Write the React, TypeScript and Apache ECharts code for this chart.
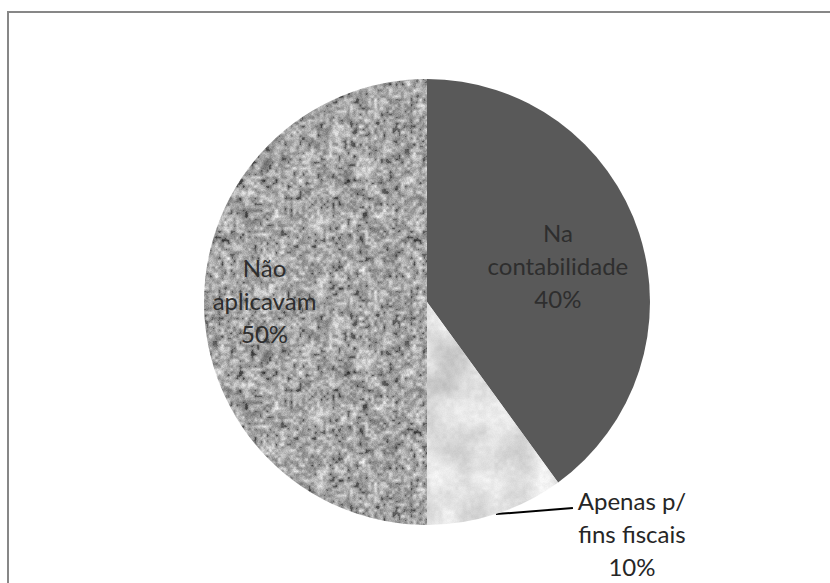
import React, { useEffect, useRef } from "react";
import * as echarts from "echarts";

const categories = ["Na\ncontabilidade", "Apenas p/\nfins fiscais", "Não\naplicavam"];
const values = [40, 10, 50];

function makeRng(seed: number) {
  let s = seed >>> 0;
  return () => {
    s = (Math.imul(s, 1664525) + 1013904223) >>> 0;
    return s / 4294967296;
  };
}

function latticeNoise(size: number, cell: number, rng: () => number) {
  const n = Math.round(size / cell);
  const grid: number[] = [];
  for (let i = 0; i < n * n; i++) grid.push(rng());
  const g = (i: number, j: number) => grid[(((j % n) + n) % n) * n + (((i % n) + n) % n)];
  return (x: number, y: number) => {
    const gx = x / cell, gy = y / cell;
    const x0 = Math.floor(gx), y0 = Math.floor(gy);
    const fx = gx - x0, fy = gy - y0;
    const sx = fx * fx * (3 - 2 * fx), sy = fy * fy * (3 - 2 * fy);
    const a = g(x0, y0), b = g(x0 + 1, y0), c = g(x0, y0 + 1), d = g(x0 + 1, y0 + 1);
    return a + (b - a) * sx + (c - a) * sy + (a - b - c + d) * sx * sy;
  };
}

function makeTexture(size: number, fn: (x: number, y: number) => number) {
  const cv = document.createElement("canvas");
  cv.width = size;
  cv.height = size;
  const ctx = cv.getContext("2d")!;
  const img = ctx.createImageData(size, size);
  for (let y = 0; y < size; y++) {
    for (let x = 0; x < size; x++) {
      const v = Math.max(0, Math.min(255, Math.round(fn(x, y))));
      const k = (y * size + x) * 4;
      img.data[k] = v;
      img.data[k + 1] = v;
      img.data[k + 2] = v;
      img.data[k + 3] = 255;
    }
  }
  ctx.putImageData(img, 0, 0);
  return cv;
}

function graniteTexture() {
  const rng = makeRng(12345);
  const size = 192;
  const n1 = latticeNoise(size, 3, rng);
  const n2 = latticeNoise(size, 6, rng);
  const n3 = latticeNoise(size, 12, rng);
  return makeTexture(size, (x, y) => {
    const a = n1(x, y), b = n2(x, y), c = n3(x, y);
    let v = 165 + 80 * (a - 0.5) + 60 * (b - 0.5) + 30 * (c - 0.5) + 26 * (rng() - 0.5);
    if (a < 0.2 && b < 0.45) v -= 35;
    return v;
  });
}

function marbleTexture() {
  const rng = makeRng(98765);
  const size = 256;
  const m1 = latticeNoise(size, 32, rng);
  const m2 = latticeNoise(size, 16, rng);
  const m3 = latticeNoise(size, 4, rng);
  return makeTexture(size, (x, y) => {
    return 220 + 44 * (m1(x, y) - 0.5) + 30 * (m2(x, y) - 0.5) + 14 * (m3(x, y) - 0.5) + 6 * (rng() - 0.5);
  });
}

export default function App() {
  const ref = useRef<HTMLDivElement>(null);

  useEffect(() => {
    document.body.style.margin = "0";
    if (!ref.current) return;
    const chart = echarts.init(ref.current, undefined, { renderer: "svg" });
    const granite = graniteTexture();
    const marble = marbleTexture();
    const fills: any[] = [
      "#595959",
      { image: marble, repeat: "repeat" },
      { image: granite, repeat: "repeat" },
    ];

    chart.setOption({
      animation: false,
      backgroundColor: "#ffffff",
      graphic: [
        {
          type: "rect",
          silent: true,
          z: 100,
          shape: { x: 8, y: 12, width: 900, height: 700 },
          style: { fill: "none", stroke: "#878787", lineWidth: 2 },
        },
      ],
      series: [
        {
          type: "pie",
          center: [427, 302],
          radius: [0, 223],
          startAngle: 90,
          clockwise: true,
          avoidLabelOverlap: false,
          itemStyle: { borderWidth: 0 },
          label: {
            show: true,
            position: "inside",
            formatter: "{b}\n{d}%",
            fontFamily: "Lato",
            fontSize: 24,
            lineHeight: 33,
            color: "#2e2e2e",
          },
          labelLine: { show: false },
          emphasis: { disabled: true },
          labelLayout: (params: any) => {
            if (params.dataIndex === 0) return { dx: 22, dy: -1 };
            if (params.dataIndex === 2) return { dx: -48, dy: -2 };
            if (params.dataIndex === 1 && params.labelLinePoints) {
              const p0 = params.labelLinePoints[0];
              const end = [p0[0] + 77, p0[1] - 6];
              return {
                x: end[0] + 59,
                y: end[1] - 24,
                align: "center",
                verticalAlign: "top",
                labelLinePoints: [p0, p0, end],
              };
            }
            return {};
          },
          data: categories.map((name, i) => {
            const item: any = { name, value: values[i], itemStyle: { color: fills[i] } };
            if (i === 1) {
              item.label = { position: "outside", color: "#262626" };
              item.labelLine = {
                show: true,
                length: 1,
                length2: 77,
                lineStyle: { color: "#000000", width: 2 },
              };
            }
            return item;
          }),
        },
      ],
    });
    return () => chart.dispose();
  }, []);

  return <div ref={ref} style={{ width: 830, height: 583 }} />;
}
